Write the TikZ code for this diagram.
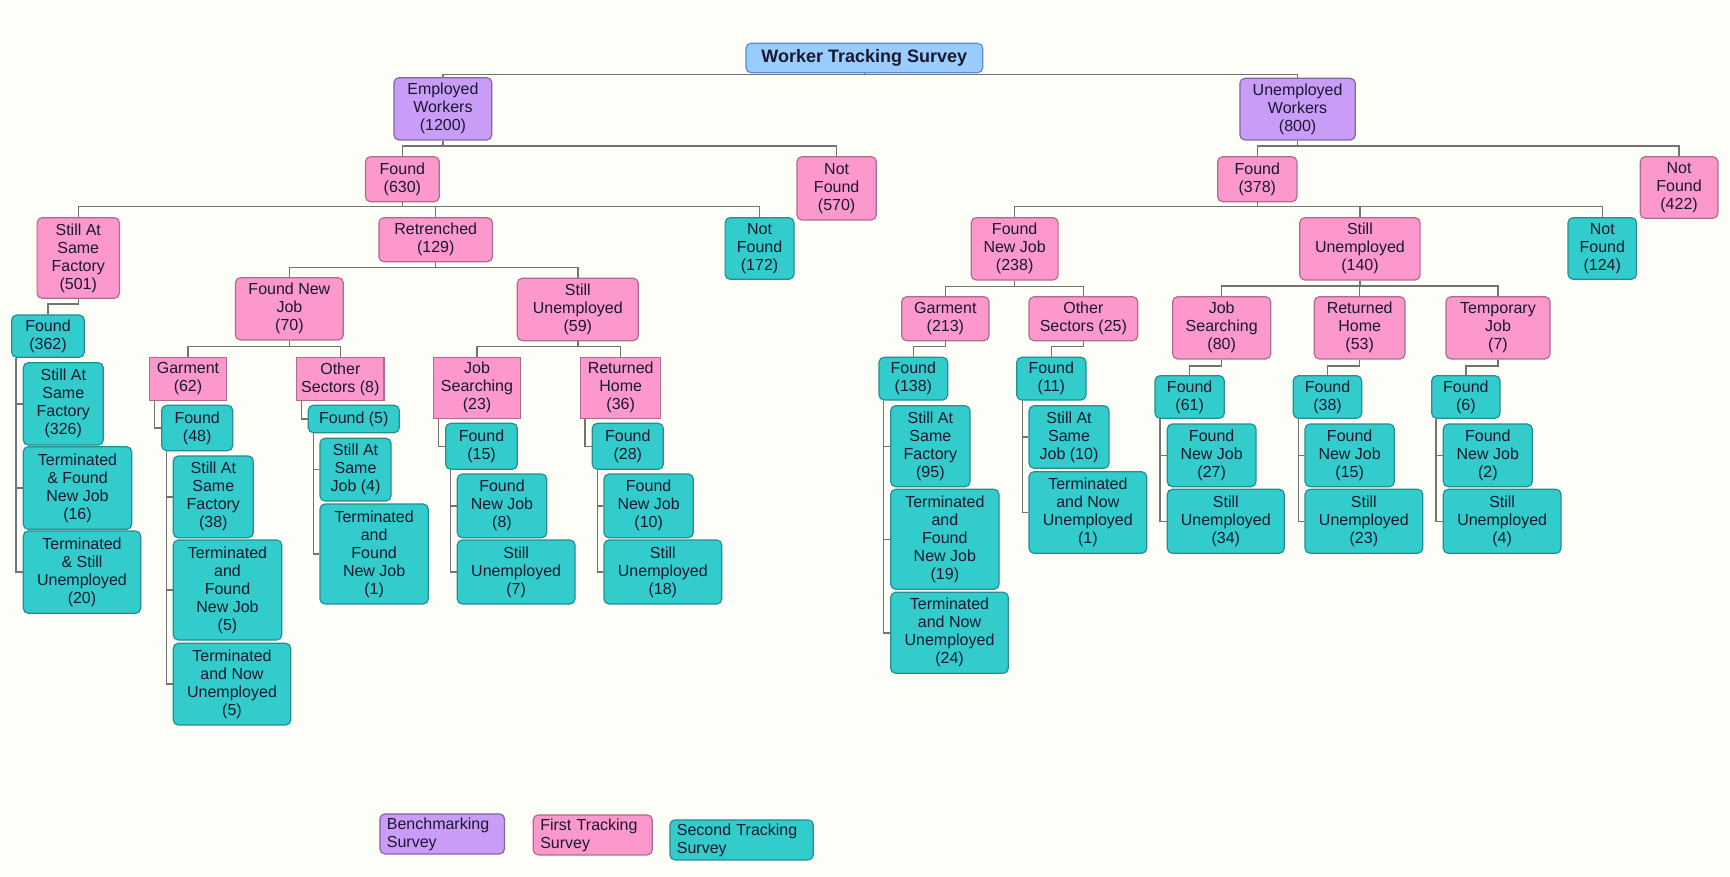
\documentclass[tikz,border=0pt]{standalone}
\usepackage{fontspec}
\setmainfont{Liberation Sans}
\definecolor{bgc}{RGB}{254,254,248}
\definecolor{purp}{RGB}{201,156,248}
\definecolor{pinkc}{RGB}{252,152,204}
\definecolor{tealc}{RGB}{51,204,204}
\definecolor{titlec}{RGB}{153,204,255}
\definecolor{titleb}{RGB}{90,140,210}
\definecolor{txt}{RGB}{25,25,45}
\definecolor{linec}{RGB}{115,115,115}
\tikzset{
 base/.style={rectangle, rounded corners=2.5pt, inner sep=0.5pt, align=center, text=txt, font=\fontsize{8}{9}\selectfont, line width=0.6pt},
 pu/.style={base, fill=purp, draw=purp!65!black},
 pk/.style={base, fill=pinkc, draw=pinkc!70!black},
 pks/.style={pk, sharp corners},
 tl/.style={base, fill=tealc, draw=tealc!70!black},
 ttl/.style={base, fill=titlec, draw=titleb, font=\fontsize{9}{10}\selectfont\bfseries},
 conn/.style={draw=linec, line width=0.7pt},
 lgd/.style={align=left, anchor=north west, inner xsep=3.5pt, inner ysep=0.5pt, minimum height=20pt}
}
\newcommand{\mybox}[7]{\node[#1, minimum width={(#5-#3)*0.5pt}, minimum height={(#6-#4)*0.5pt}] (#2) at ({(#3+#5)/2},{(#4+#6)/2}) {#7};}
\newcommand{\busc}[3]{\draw[conn] (#1.south) -- (#1.south |- 0,#2) -| (#3.north);}
\newcommand{\sidec}[3]{\draw[conn] (#1.south -| #2,0) |- (#3.west);}
\begin{document}
\begin{tikzpicture}[x=0.5pt,y=-0.5pt]
\fill[bgc] (0,0) rectangle (1730,877);
\useasboundingbox (0,0) rectangle (1730,877);
% title and benchmarking
\mybox{ttl}{title}{746}{43.3}{982.7}{72.7}{Worker Tracking Survey}
\mybox{pu}{emp}{394}{77.7}{491.8}{140}{Employed\\Workers\\(1200)}
\mybox{pu}{unemp}{1239.9}{78.3}{1355.3}{140}{Unemployed\\Workers\\(800)}
% employed branch
\mybox{pk}{ef}{365.5}{156.7}{439.3}{201.7}{Found\\(630)}
\mybox{pk}{enf}{797}{156.7}{876.3}{220}{Not\\Found\\(570)}
\mybox{pk}{ssf}{37.1}{217.7}{119.4}{298.3}{Still At\\Same\\Factory\\(501)}
\mybox{pk}{ret}{378.9}{217.7}{492.5}{261.7}{Retrenched\\(129)}
\mybox{tl}{enf2}{725.1}{217.7}{794}{279.3}{Not\\Found\\(172)}
\mybox{tl}{f362}{11.7}{315}{84.3}{357.3}{Found\\(362)}
\mybox{tl}{s326}{23.3}{362.7}{103.3}{445}{Still At\\Same\\Factory\\(326)}
\mybox{tl}{t16}{23.3}{446.7}{131.7}{529.3}{Terminated\\\& Found\\New Job\\(16)}
\mybox{tl}{t20}{23.3}{531}{140.7}{613.3}{Terminated\\\& Still\\Unemployed\\(20)}
\mybox{pk}{fnj70}{235.5}{277.7}{343.3}{340}{Found New\\Job\\(70)}
\mybox{pk}{su59}{517.3}{278.3}{638.3}{340.7}{Still\\Unemployed\\(59)}
\mybox{pks}{g62}{149.3}{357.3}{226.7}{400.7}{Garment\\(62)}
\mybox{pks}{os8}{296.7}{357.3}{384}{400.7}{Other\\Sectors (8)}
\mybox{tl}{f48}{161.7}{405.3}{232.7}{450.7}{Found\\(48)}
\mybox{tl}{s38}{173.3}{456}{253.3}{537.7}{Still At\\Same\\Factory\\(38)}
\mybox{tl}{t5a}{173.3}{540}{281.7}{640}{Terminated\\and\\Found\\New Job\\(5)}
\mybox{tl}{t5b}{173.3}{643.3}{290.7}{725}{Terminated\\and Now\\Unemployed\\(5)}
\mybox{tl}{f5}{308.3}{405.3}{399.3}{432.7}{Found (5)}
\mybox{tl}{s4}{320}{438.3}{391}{501}{Still At\\Same\\Job (4)}
\mybox{tl}{t1}{320}{504}{428.3}{604}{Terminated\\and\\Found\\New Job\\(1)}
\mybox{pks}{js23}{433.3}{357.3}{520.7}{418.3}{Job\\Searching\\(23)}
\mybox{pks}{rh36}{580.7}{357.3}{660.7}{418.3}{Returned\\Home\\(36)}
\mybox{tl}{f15}{445.7}{423.3}{517.3}{469.3}{Found\\(15)}
\mybox{tl}{n8}{457.3}{474}{546.7}{537.7}{Found\\New Job\\(8)}
\mybox{tl}{u7}{457.3}{540}{575}{604}{Still\\Unemployed\\(7)}
\mybox{tl}{f28}{592.3}{423.3}{663.3}{469.3}{Found\\(28)}
\mybox{tl}{n10}{604}{474}{693.3}{537.7}{Found\\New Job\\(10)}
\mybox{tl}{u18}{604}{540}{721.7}{604}{Still\\Unemployed\\(18)}
% unemployed branch
\mybox{pk}{uf}{1217.7}{156.7}{1296.9}{201.7}{Found\\(378)}
\mybox{pk}{unf}{1640.2}{156.7}{1717.9}{218.3}{Not\\Found\\(422)}
\mybox{pk}{fnj238}{971.2}{217.7}{1058.1}{280}{Found\\New Job\\(238)}
\mybox{pk}{su140}{1299.8}{217.7}{1420.1}{280}{Still\\Unemployed\\(140)}
\mybox{tl}{unf2}{1568}{217.7}{1636.5}{279.3}{Not\\Found\\(124)}
\mybox{pk}{g213}{901.7}{296.7}{989}{340.7}{Garment\\(213)}
\mybox{pk}{os25}{1029}{296.7}{1137.7}{340.7}{Other\\Sectors (25)}
\mybox{tl}{f138}{879}{357.3}{947.7}{400}{Found\\(138)}
\mybox{tl}{s95}{890.7}{405.7}{970}{486.7}{Still At\\Same\\Factory\\(95)}
\mybox{tl}{t19}{890.7}{489.3}{999}{589.3}{Terminated\\and\\Found\\New Job\\(19)}
\mybox{tl}{t24}{890.7}{592.3}{1008.3}{673.3}{Terminated\\and Now\\Unemployed\\(24)}
\mybox{tl}{f11}{1016.7}{357.3}{1086}{400}{Found\\(11)}
\mybox{tl}{s10}{1029}{405.7}{1109}{468.3}{Still At\\Same\\Job (10)}
\mybox{tl}{t1b}{1029}{471.7}{1146.7}{553.3}{Terminated\\and Now\\Unemployed\\(1)}
\mybox{pk}{js80}{1172.7}{296.7}{1270.7}{359}{Job\\Searching\\(80)}
\mybox{pk}{rh53}{1314.3}{296.7}{1405}{359}{Returned\\Home\\(53)}
\mybox{pk}{tj7}{1446}{296.7}{1550}{359}{Temporary\\Job\\(7)}
\mybox{tl}{f61}{1155}{375.7}{1224.3}{418.3}{Found\\(61)}
\mybox{tl}{n27}{1167.3}{424}{1256}{486.7}{Found\\New Job\\(27)}
\mybox{tl}{u34}{1167.3}{489.3}{1284.3}{553.3}{Still\\Unemployed\\(34)}
\mybox{tl}{f38}{1293.3}{375.7}{1361.7}{418.3}{Found\\(38)}
\mybox{tl}{n15}{1305}{424}{1394.3}{486.7}{Found\\New Job\\(15)}
\mybox{tl}{u23}{1305}{489.3}{1422.7}{553.3}{Still\\Unemployed\\(23)}
\mybox{tl}{f6}{1431.7}{375.7}{1500}{418.3}{Found\\(6)}
\mybox{tl}{n2}{1443.3}{424}{1532.3}{486.7}{Found\\New Job\\(2)}
\mybox{tl}{u4}{1443.3}{489.3}{1561}{553.3}{Still\\Unemployed\\(4)}
% connectors
\busc{title}{74.3}{emp}\busc{title}{74.3}{unemp}
\busc{emp}{146}{ef}\busc{emp}{146}{enf}
\busc{ef}{206.7}{ssf}\busc{ef}{206.7}{ret}\busc{ef}{206.7}{enf2}
\busc{ret}{267.3}{fnj70}\busc{ret}{267.3}{su59}
\busc{fnj70}{346.7}{g62}\busc{fnj70}{346.7}{os8}
\busc{su59}{346.7}{js23}\busc{su59}{346.7}{rh36}
\busc{ssf}{304}{f362}
\sidec{f362}{16}{s326}\sidec{f362}{16}{t16}\sidec{f362}{16}{t20}
\sidec{g62}{154.3}{f48}
\sidec{f48}{166.7}{s38}\sidec{f48}{166.7}{t5a}\sidec{f48}{166.7}{t5b}
\sidec{os8}{301.7}{f5}
\sidec{f5}{313.3}{s4}\sidec{f5}{313.3}{t1}
\sidec{js23}{438.3}{f15}
\sidec{f15}{450.7}{n8}\sidec{f15}{450.7}{u7}
\sidec{rh36}{585}{f28}
\sidec{f28}{597.3}{n10}\sidec{f28}{597.3}{u18}
\busc{unemp}{146}{uf}\busc{unemp}{146}{unf}
\busc{uf}{206.7}{fnj238}\busc{uf}{206.7}{su140}\busc{uf}{206.7}{unf2}
\busc{fnj238}{286.5}{g213}\busc{fnj238}{286.5}{os25}
\busc{su140}{286}{js80}\busc{su140}{286}{rh53}\busc{su140}{286}{tj7}
\busc{g213}{346.7}{f138}\busc{os25}{346.7}{f11}
\busc{js80}{366}{f61}\busc{rh53}{366}{f38}\busc{tj7}{366}{f6}
\sidec{f138}{883.3}{s95}\sidec{f138}{883.3}{t19}\sidec{f138}{883.3}{t24}
\sidec{f11}{1022.3}{s10}\sidec{f11}{1022.3}{t1b}
\sidec{f61}{1160}{n27}\sidec{f61}{1160}{u34}
\sidec{f38}{1298.3}{n15}\sidec{f38}{1298.3}{u23}
\sidec{f6}{1436}{n2}\sidec{f6}{1436}{u4}
% legend
\node[pu, lgd, text width=55.3pt] (lg1) at (379.3,813.3) {Benchmarking\\Survey};
\node[pk, lgd, text width=52.5pt] (lg2) at (532.7,814.3) {First Tracking\\Survey};
\node[tl, lgd, text width=64.7pt] (lg3) at (669.3,819.3) {Second Tracking\\Survey};
\end{tikzpicture}
\end{document}
